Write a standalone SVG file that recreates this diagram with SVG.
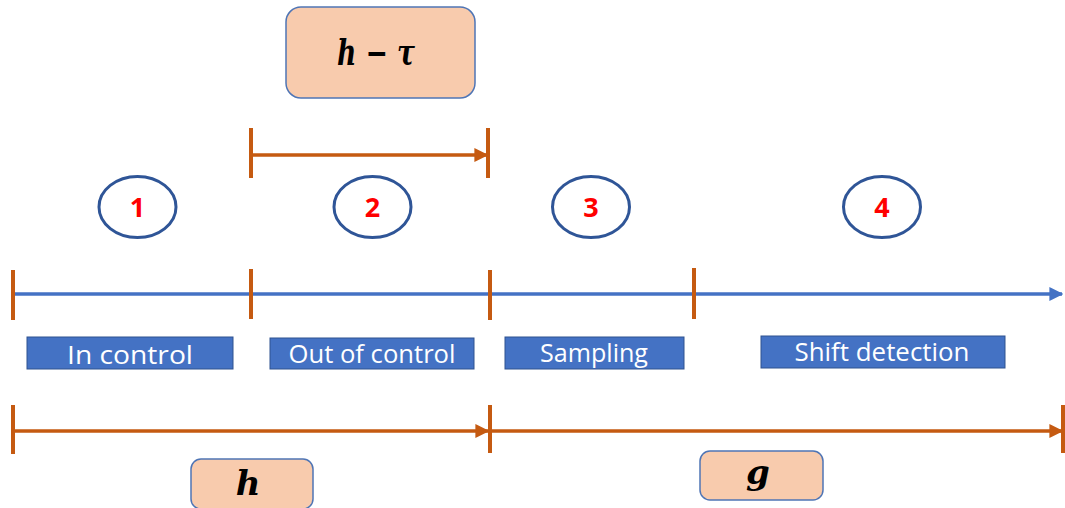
<svg xmlns="http://www.w3.org/2000/svg" width="1065" height="508" viewBox="0 0 1065 508">
<defs>
<marker id="arrO" viewBox="0 0 10 10" refX="9" refY="5" markerWidth="4" markerHeight="4" orient="auto" markerUnits="strokeWidth"><path d="M0,0 L10,5 L0,10 z" fill="#C55A11"/></marker>
<marker id="arrB" viewBox="0 0 10 10" refX="9" refY="5" markerWidth="4" markerHeight="4" orient="auto" markerUnits="strokeWidth"><path d="M0,0 L10,5 L0,10 z" fill="#4472C4"/></marker>
</defs>
<style>
.tick{stroke:#C55A11;stroke-width:4;}
.oline{stroke:#C55A11;stroke-width:3.5;fill:none;}
.bline{stroke:#4472C4;stroke-width:3.5;fill:none;}
.lab{fill:#4472C4;stroke:#2F528F;stroke-width:1;}
.labt{fill:#FFFFFF;font-family:"Open Sans","Noto Sans",sans-serif;font-size:26px;text-anchor:middle;}
.peach{fill:#F8CBAD;stroke:#4F75B5;stroke-width:1.5;}
.math{font-family:"DejaVu Serif","Liberation Serif",serif;font-weight:bold;font-style:italic;fill:#000;text-anchor:middle;}
.circ{fill:#FFFFFF;stroke:#2F5597;stroke-width:3;}
.num{fill:#FF0000;font-family:"Open Sans","Noto Sans",sans-serif;font-weight:bold;font-size:27px;text-anchor:middle;}
</style>
<g id="connectors">
<line class="oline" x1="251" y1="155" x2="487" y2="155" marker-end="url(#arrO)"/>
<line class="tick" x1="251" y1="128" x2="251" y2="178"/>
<line class="tick" x1="488" y1="128" x2="488" y2="178"/>
<line class="bline" x1="13" y1="294" x2="1062" y2="294" marker-end="url(#arrB)"/>
<line class="tick" x1="13" y1="270" x2="13" y2="320"/>
<line class="tick" x1="251" y1="269" x2="251" y2="319"/>
<line class="tick" x1="490" y1="270" x2="490" y2="320"/>
<line class="tick" x1="694" y1="268" x2="694" y2="319"/>
<line class="oline" x1="13" y1="431" x2="488" y2="431" marker-end="url(#arrO)"/>
<line class="oline" x1="490" y1="431" x2="1062" y2="431" marker-end="url(#arrO)"/>
<line class="tick" x1="13" y1="405" x2="13" y2="454"/>
<line class="tick" x1="490" y1="405" x2="490" y2="453"/>
<line class="tick" x1="1063" y1="405" x2="1063" y2="453"/>
</g>
<g id="node-htau"><rect class="peach" x="286" y="7" width="189" height="91" rx="15"/><text class="math" x="376" y="65" font-size="35" textLength="78" lengthAdjust="spacingAndGlyphs">h − τ</text></g>
<g id="node-c1"><ellipse class="circ" cx="137.5" cy="207" rx="38.5" ry="30.5"/><text class="num" x="137.5" y="217">1</text></g>
<g id="node-c2"><ellipse class="circ" cx="372.5" cy="207" rx="38.5" ry="30.5"/><text class="num" x="372.5" y="217">2</text></g>
<g id="node-c3"><ellipse class="circ" cx="591" cy="207" rx="38.5" ry="30.5"/><text class="num" x="591" y="217">3</text></g>
<g id="node-c4"><ellipse class="circ" cx="882" cy="207" rx="38.5" ry="30.5"/><text class="num" x="882" y="217">4</text></g>
<g id="node-incontrol"><rect class="lab" x="27" y="337" width="206" height="32"/><text class="labt" x="130" y="364" font-size="28" textLength="126" lengthAdjust="spacingAndGlyphs">In control</text></g>
<g id="node-outofcontrol"><rect class="lab" x="270" y="338" width="204" height="31"/><text class="labt" x="372" y="363" textLength="167" lengthAdjust="spacingAndGlyphs">Out of control</text></g>
<g id="node-sampling"><rect class="lab" x="505" y="337" width="179" height="32"/><text class="labt" x="594" y="362" textLength="108" lengthAdjust="spacingAndGlyphs">Sampling</text></g>
<g id="node-shift"><rect class="lab" x="761" y="336" width="244" height="32"/><text class="labt" x="882" y="361" textLength="175" lengthAdjust="spacingAndGlyphs">Shift detection</text></g>
<g id="node-h"><rect class="peach" x="191" y="459" width="122" height="50" rx="10"/><text class="math" x="248" y="495" font-size="34">h</text></g>
<g id="node-g"><rect class="peach" x="700" y="451" width="123" height="49" rx="10"/><text class="math" x="758" y="484" font-size="34">g</text></g>
</svg>
